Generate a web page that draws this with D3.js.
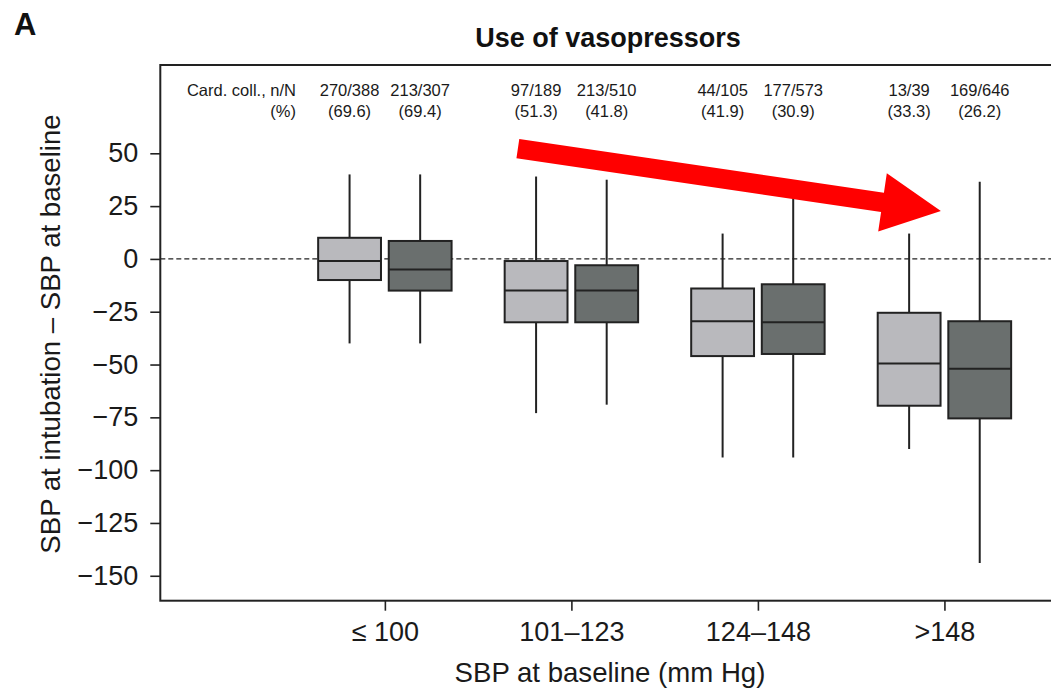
<!DOCTYPE html>
<html>
<head>
<meta charset="utf-8">
<script src="https://cdn.jsdelivr.net/npm/d3@7"></script>
<style>
  html, body { margin: 0; padding: 0; background: #fff; }
  svg { display: block; font-family: "Liberation Sans", Arial, Helvetica, sans-serif; }
</style>
</head>
<body>
<svg id="chart" width="1051" height="689"></svg>
<script>
// Baseline SBP categories (mm Hg)
const categories = ["≤ 100", "101–123", "124–148", ">148"];
// Two box series per category
const series = ["no", "yes"];

// Box-plot statistics of SBP change (intubation − baseline), [series no, series yes] per category
const whiskerHigh = [[40, 40], [39, 37.5], [12, 33], [12, 36.5]];
const q3          = [[10, 8.5], [-1, -3], [-14, -12], [-25.5, -29.5]];
const median      = [[-1, -5], [-15, -15], [-29.5, -30], [-49.5, -52]];
const q1          = [[-10, -15], [-30, -30], [-46, -45], [-69.5, -75.5]];
const whiskerLow  = [[-40, -40], [-73, -69], [-94, -94], [-90, -144]];

// Cardiovascular collapse counts: n / N (%)
const cardCollN     = [[270, 213], [97, 213], [44, 177], [13, 169]];
const cardCollTotal = [[388, 307], [189, 510], [105, 573], [39, 646]];
const cardCollPct   = [[69.6, 69.4], [51.3, 41.8], [41.9, 30.9], [33.3, 26.2]];

const yTicks = [50, 25, 0, -25, -50, -75, -100, -125, -150];
const yDomain = [-161.8, 91.8];

// Trend arrow, in data units (category index, SBP change)
const arrowFrom = [0.713, 52.2];
const arrowTo   = [2.981, 22.7];

// ---- layout ----
const svg = d3.select("#chart");
const plot = { left: 160.3, top: 65, right: 1169, bottom: 600.7 };
const tickFont = 27;
const titleFont = 27.6;

const x = d3.scalePoint()
  .domain(categories)
  .range([plot.left, plot.right])
  .padding(1.204);
const xIndex = d3.scaleLinear()
  .domain([0, categories.length - 1])
  .range([x(categories[0]), x(categories[categories.length - 1])]);
const sub = d3.scaleBand()
  .domain(series)
  .range([-70.6, 70.6]);
const boxW = sub.bandwidth() * 0.89;

const y = d3.scaleLinear().domain(yDomain).range([plot.bottom, plot.top]);

const fills = { no: "#b9b9bd", yes: "#6a6f6e" };
const ink = "#222";

// Flatten box statistics
const boxes = [];
categories.forEach((c, i) => {
  series.forEach((s, j) => {
    boxes.push({
      cat: c, s, i, j,
      hi: whiskerHigh[i][j], q3: q3[i][j], med: median[i][j],
      q1: q1[i][j], lo: whiskerLow[i][j],
      n: cardCollN[i][j], N: cardCollTotal[i][j], pct: cardCollPct[i][j]
    });
  });
});
const cx = d => x(d.cat) + sub(d.s) + sub.bandwidth() / 2;

// Panel letter
svg.append("text")
  .attr("x", 14).attr("y", 35)
  .attr("font-size", 31).attr("font-weight", "bold").attr("fill", "#111")
  .text("A");

// Title
svg.append("text")
  .attr("x", 608).attr("y", 47)
  .attr("text-anchor", "middle")
  .attr("font-size", 27).attr("font-weight", "bold").attr("fill", "#111")
  .text("Use of vasopressors");

// Reference line at zero
svg.append("line")
  .attr("x1", plot.left).attr("x2", plot.right)
  .attr("y1", y(0)).attr("y2", y(0))
  .attr("stroke", ink).attr("stroke-width", 1.4)
  .attr("stroke-dasharray", "5,3");

// Whiskers
const g = svg.append("g");
g.selectAll("line.whisker").data(boxes).join("line")
  .attr("class", "whisker")
  .attr("x1", cx).attr("x2", cx)
  .attr("y1", d => y(d.hi)).attr("y2", d => y(d.lo))
  .attr("stroke", ink).attr("stroke-width", 2);

// Boxes
g.selectAll("rect.box").data(boxes).join("rect")
  .attr("class", "box")
  .attr("x", d => cx(d) - boxW / 2)
  .attr("width", boxW)
  .attr("y", d => y(d.q3))
  .attr("height", d => y(d.q1) - y(d.q3))
  .attr("fill", d => fills[d.s])
  .attr("stroke", ink).attr("stroke-width", 2);

// Medians
g.selectAll("line.median").data(boxes).join("line")
  .attr("class", "median")
  .attr("x1", d => cx(d) - boxW / 2).attr("x2", d => cx(d) + boxW / 2)
  .attr("y1", d => y(d.med)).attr("y2", d => y(d.med))
  .attr("stroke", ink).attr("stroke-width", 2);

// Trend arrow
(function () {
  const x0 = xIndex(arrowFrom[0]), y0 = y(arrowFrom[1]);
  const x1 = xIndex(arrowTo[0]),   y1 = y(arrowTo[1]);
  const len = Math.hypot(x1 - x0, y1 - y0);
  const ang = Math.atan2(y1 - y0, x1 - x0) * 180 / Math.PI;
  const body = 19.5, headW = 59, headL = 59;
  const pts = [
    [0, -body / 2], [len - headL, -body / 2], [len - headL, -headW / 2],
    [len, 0],
    [len - headL, headW / 2], [len - headL, body / 2], [0, body / 2]
  ];
  svg.append("path")
    .attr("d", "M" + pts.map(p => p.join(",")).join("L") + "Z")
    .attr("transform", `translate(${x0},${y0}) rotate(${ang})`)
    .attr("fill", "#ff0000");
})();

// Frame
svg.append("rect")
  .attr("x", plot.left).attr("y", plot.top)
  .attr("width", plot.right - plot.left).attr("height", plot.bottom - plot.top)
  .attr("fill", "none").attr("stroke", ink).attr("stroke-width", 2);

// Y axis
const yAxis = svg.append("g")
  .attr("transform", `translate(${plot.left},0)`)
  .call(d3.axisLeft(y).tickValues(yTicks).tickSize(10).tickPadding(12));
yAxis.select(".domain").remove();
yAxis.selectAll(".tick line").attr("stroke", ink).attr("stroke-width", 1.6);
yAxis.selectAll(".tick text")
  .attr("font-size", tickFont).attr("fill", "#1a1a1a")
  .attr("font-family", "'Liberation Sans', Arial, sans-serif");

// X axis
const xAxis = svg.append("g")
  .attr("transform", `translate(0,${plot.bottom})`)
  .call(d3.axisBottom(x).tickSize(10).tickPadding(11));
xAxis.select(".domain").remove();
xAxis.selectAll(".tick line").attr("stroke", ink).attr("stroke-width", 1.6);
xAxis.selectAll(".tick text")
  .attr("font-size", tickFont).attr("fill", "#1a1a1a")
  .attr("font-family", "'Liberation Sans', Arial, sans-serif");

// Axis titles
svg.append("text")
  .attr("transform", `translate(60,334) rotate(-90)`)
  .attr("text-anchor", "middle")
  .attr("font-size", titleFont).attr("fill", "#1a1a1a")
  .text("SBP at intubation – SBP at baseline");

svg.append("text")
  .attr("x", 610).attr("y", 681.5)
  .attr("text-anchor", "middle")
  .attr("font-size", titleFont).attr("fill", "#1a1a1a")
  .text("SBP at baseline (mm Hg)");

// Cardiovascular collapse annotations
const ann = svg.append("g").attr("font-size", 16.5).attr("fill", "#1a1a1a");
ann.append("text").attr("x", 296).attr("y", 96).attr("text-anchor", "end")
  .text("Card. coll., n/N");
ann.append("text").attr("x", 296).attr("y", 117).attr("text-anchor", "end")
  .text("(%)");
ann.selectAll("text.nn").data(boxes).join("text")
  .attr("class", "nn")
  .attr("x", cx).attr("y", 96).attr("text-anchor", "middle")
  .text(d => `${d.n}/${d.N}`);
ann.selectAll("text.pct").data(boxes).join("text")
  .attr("class", "pct")
  .attr("x", cx).attr("y", 117).attr("text-anchor", "middle")
  .text(d => `(${d.pct.toFixed(1)})`);
</script>
</body>
</html>
